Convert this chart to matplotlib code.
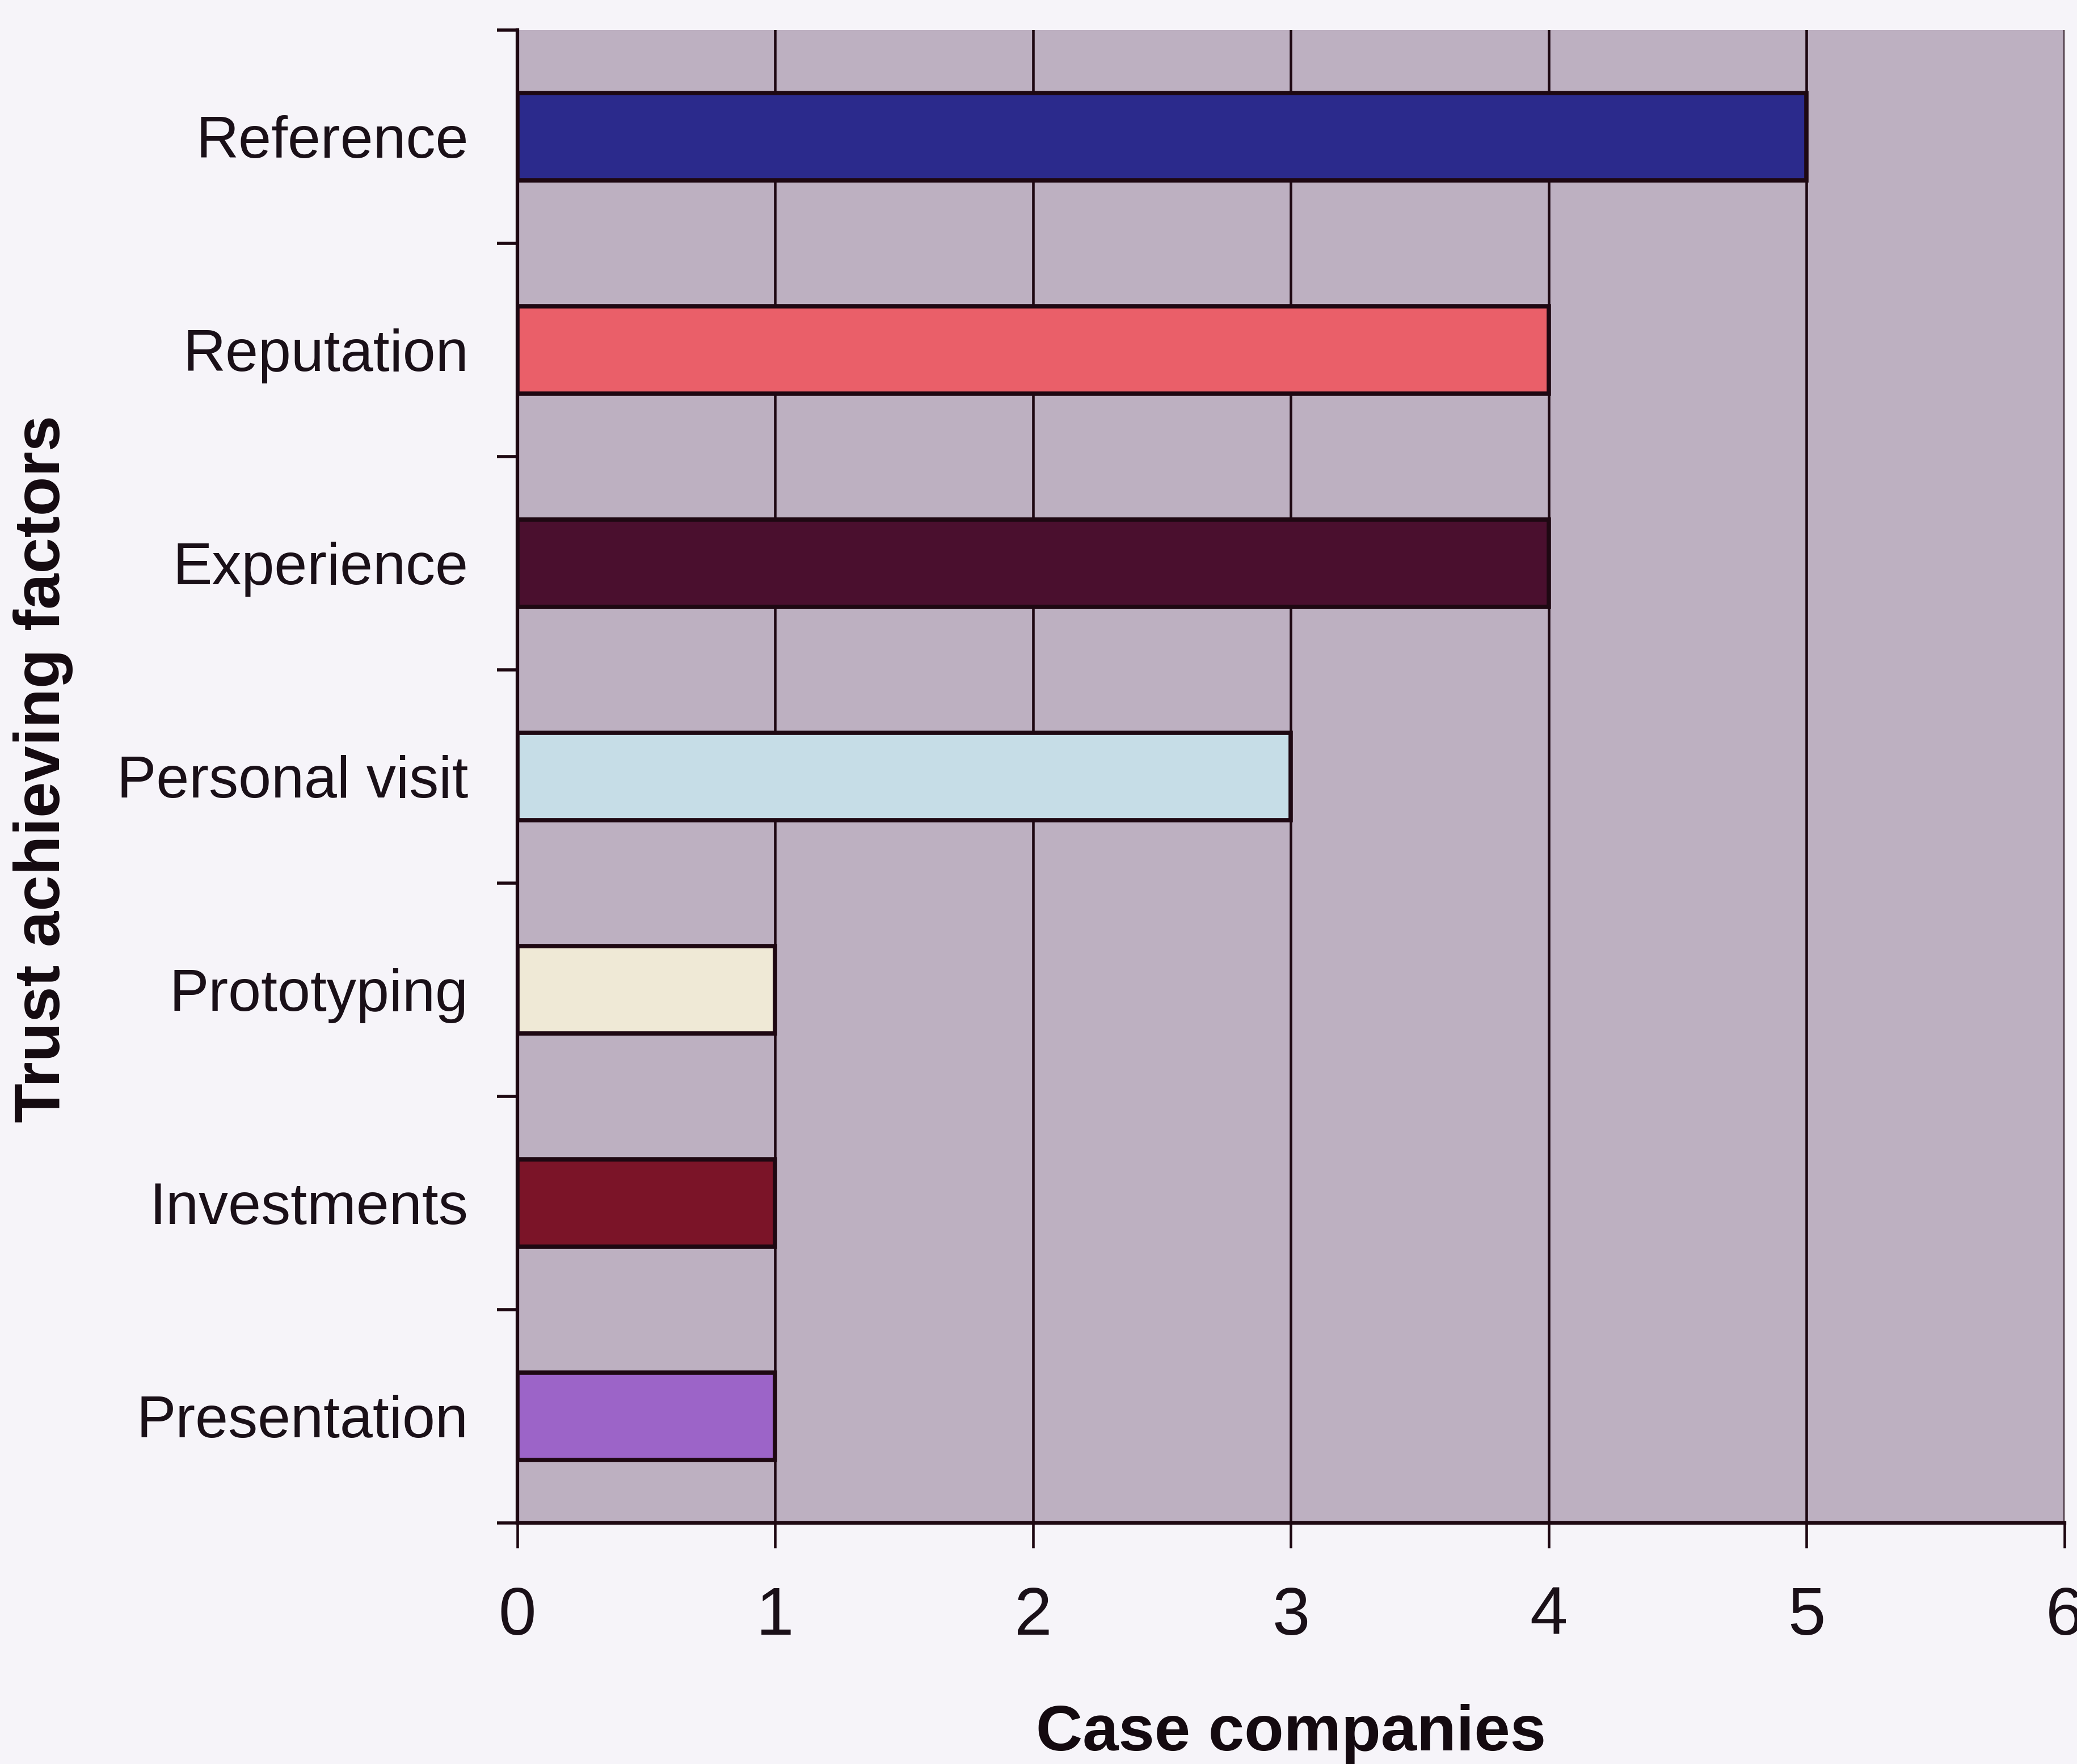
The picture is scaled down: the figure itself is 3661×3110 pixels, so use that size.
import matplotlib
matplotlib.use("Agg")
import matplotlib.pyplot as plt
import numpy as np

categories = ["Reference", "Reputation", "Experience", "Personal visit",
              "Prototyping", "Investments", "Presentation"]
values = [5, 4, 4, 3, 1, 1, 1]
colors = ["#2B2A8C", "#EA5F69", "#4A0F2E", "#C6DDE7", "#EFE9D6", "#7B1428", "#9C64C8"]
xticks = [0, 1, 2, 3, 4, 5, 6]

plt.rcParams['font.family'] = ['Liberation Sans', 'DejaVu Sans']

fig = plt.figure(figsize=(36.62, 31.10), dpi=100)
ax = fig.add_axes([0.249, 0.1367, 0.7447, 0.8463])
ax.set_facecolor("#BDB0C1")

y = np.arange(len(categories))
ax.barh(y, values, height=0.41, color=colors, edgecolor="#1E0812", linewidth=5.5, zorder=3)

ax.set_xlim(0, 6)
ax.set_ylim(len(categories) - 0.5, -0.5)
ax.set_xticks(xticks)
ax.set_xticklabels([str(t) for t in xticks], fontsize=86, color="#1A1018")
ax.xaxis.grid(True, color="#1E0812", linewidth=3.3, zorder=1)
ax.set_axisbelow(True)

ax.set_yticks(np.arange(-0.5, len(categories), 1))
ax.set_yticklabels([])
ax.set_yticks(y, minor=True)
ax.set_yticklabels(categories, minor=True, fontsize=75, color="#1A1018")
ax.tick_params(axis="y", which="minor", length=0, pad=62)
ax.tick_params(axis="y", which="major", length=26, width=4, color="#1E0812", direction="out")
ax.tick_params(axis="x", length=32, width=3.3, color="#1E0812", direction="out", pad=48)

for s in ["top", "right"]:
    ax.spines[s].set_visible(False)
for s in ["left", "bottom"]:
    ax.spines[s].set_linewidth(4.5)
    ax.spines[s].set_color("#1E0812")

ax.set_xlabel("Case companies", fontsize=82, fontweight="bold", labelpad=70, color="#140A10")
ax.set_ylabel("Trust achieving factors", fontsize=82, fontweight="bold", color="#140A10")
ax.yaxis.set_label_coords(-0.287, 0.505)

fig.savefig("out.png", dpi=100, facecolor="#F6F4F9")
